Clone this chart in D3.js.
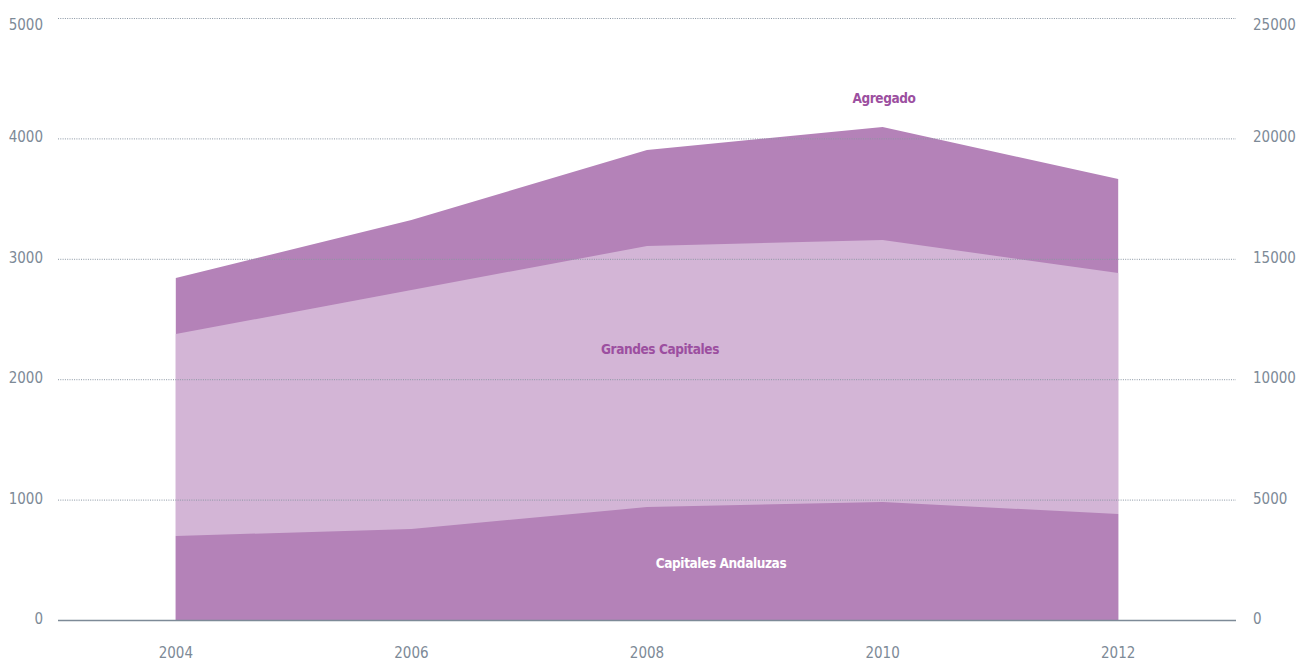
<!DOCTYPE html>
<html><head><meta charset="utf-8">
<script src="https://cdn.jsdelivr.net/npm/d3@7"></script>
<style>
body{margin:0;background:#fff;}
svg text{font-family:"Liberation Sans Narrow","DejaVu Sans Condensed","Open Sans",sans-serif;}
</style></head><body>
<svg id="c" width="1299" height="661"></svg>
<script>
const years = [2004, 2006, 2008, 2010, 2012];
const agregado = [14200, 16610, 19520, 20475, 18310];          // right axis
const grandesCapitales = [2375, 2741, 3106, 3156, 2882];       // left axis
const capitalesAndaluzas = [698, 756, 938, 980, 880];          // left axis
const leftTicks = [0, 1000, 2000, 3000, 4000, 5000];
const rightTicks = [0, 5000, 10000, 15000, 20000, 25000];
const xTicks = [2004, 2006, 2008, 2010, 2012];

const svg = d3.select("#c");
const x = d3.scaleLinear().domain([2003, 2013]).range([58, 1236]);
const yL = d3.scaleLinear().domain([0, 5000]).range([620, 18]);
const yR = d3.scaleLinear().domain([0, 25000]).range([620, 18]);

const dark = "#b482b8", light = "#d3b5d6", labelC = "#9c4fa0", axisC = "#7d8a97";

function area(vals, y){
  return d3.area().x((d,i)=>x(years[i])).y0(y(0)).y1(d=>y(d))(vals);
}
svg.append("path").attr("d", area(agregado, yR)).attr("fill", dark);
svg.append("path").attr("d", area(grandesCapitales, yL)).attr("fill", light);
svg.append("path").attr("d", area(capitalesAndaluzas, yL)).attr("fill", dark);

// gridlines
svg.append("g").selectAll("line").data(leftTicks.filter(d=>d>0)).join("line")
  .attr("x1", 58).attr("x2", 1236).attr("y1", d=>yL(d)+0.5).attr("y2", d=>yL(d)+0.5)
  .attr("stroke", "#8a96a3").attr("stroke-width", 1).attr("stroke-dasharray", "1,1.3");

// baseline
svg.append("line").attr("x1", 58).attr("x2", 1236).attr("y1", yL(0)+0.5).attr("y2", yL(0)+0.5)
  .attr("stroke", axisC).attr("stroke-width", 1.5);

const labY = v => Math.max(v + 4, 30);
// left axis labels
svg.append("g").selectAll("text").data(leftTicks).join("text")
  .attr("x", 43).attr("y", d=>labY(yL(d))).attr("text-anchor", "end")
  .attr("font-size", 15).attr("fill", axisC).text(d=>d);
// right axis labels
svg.append("g").selectAll("text").data(rightTicks).join("text")
  .attr("x", 1253).attr("y", d=>labY(yR(d))).attr("text-anchor", "start")
  .attr("font-size", 15).attr("fill", axisC).text(d=>d);
// x labels
svg.append("g").selectAll("text").data(xTicks).join("text")
  .attr("x", d=>x(d)).attr("y", 658).attr("text-anchor", "middle")
  .attr("font-size", 15).attr("fill", axisC).text(d=>d);

// series labels
const labels = [
  {t:"Agregado", x:884, y:103, c:labelC},
  {t:"Grandes Capitales", x:660, y:354, c:labelC},
  {t:"Capitales Andaluzas", x:721, y:568, c:"#ffffff"}
];
svg.append("g").selectAll("text").data(labels).join("text")
  .attr("x", d=>d.x).attr("y", d=>d.y).attr("text-anchor", "middle")
  .attr("font-size", 13.5).attr("letter-spacing", "-0.4").attr("font-weight", "bold")
  .attr("fill", d=>d.c).text(d=>d.t);
</script>
</body></html>
